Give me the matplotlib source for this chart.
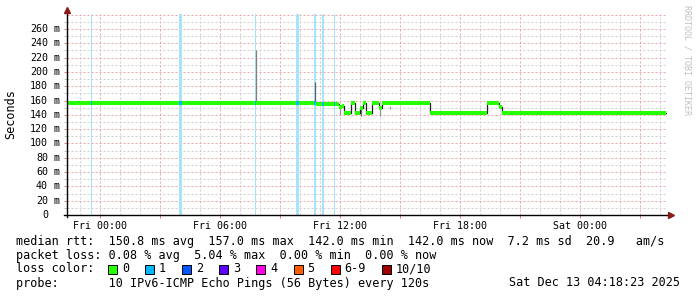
import numpy as np
import matplotlib
matplotlib.use('Agg')
import matplotlib.pyplot as plt
from matplotlib.patches import Rectangle

plt.rcParams['font.family'] = ['DejaVu Sans Mono']
plt.rcParams['lines.scale_dashes'] = False

W, H = 697, 297

# ---------------- data ----------------
view_start_h, view_end_h = -1.65, 28.35          # hours relative to Fri 00:00
tick_hours = [0, 6, 12, 18, 24]
tick_labels = ['Fri 00:00', 'Fri 06:00', 'Fri 12:00', 'Fri 18:00', 'Sat 00:00']
y_ticks_ms = [0, 20, 40, 60, 80, 100, 120, 140, 160, 180, 200, 220, 240, 260]

# median rtt as steps: start hour of each step and its value (ms)
seg_start_h = [-1.65, 10.78, 11.95, 12.08, 12.2, 12.55, 12.75, 13.0, 13.15,
               13.3, 13.6, 13.97, 14.12, 16.5, 19.37, 19.97, 20.08]
seg_rtt_ms = [157.0, 155.5, 151.0, 153.0, 142.0, 157.0, 142.0, 150.0, 157.0,
              142.0, 157.0, 149.0, 156.0, 142.0, 156.0, 151.0, 142.0]
data_end_h = 28.3

# packet-loss events (loss = 1 of 10)
loss_h = [-0.45, 4.02, 7.78, 9.87, 10.75, 11.13, 11.72]
loss_width_h = [0.05, 0.15, 0.05, 0.15, 0.10, 0.10, 0.05]

# smoke (ping spread) spikes
smoke_h = [7.78, 10.75, 12.0, 13.05, 14.0, 14.5]
smoke_lo = [157, 157, 140, 138, 138, 148]
smoke_hi = [230, 186, 150, 150, 150, 153]
smoke_col = ['#808080', '#606060', '#909090', '#707070', '#909090', '#a0a0a0']

rtt_stats = [150.8, 157.0, 142.0, 142.0]
rtt_sd = 7.2
rtt_ams = 20.9
loss_stats = [0.08, 5.04, 0.00, 0.00]
loss_labels = ['0', '1', '2', '3', '4', '5', '6-9', '10/10']
loss_colors = ['#26ff00', '#00b8ff', '#0059ff', '#5e00ff', '#ff00e8', '#ff5e00', '#ff0000', '#a10000']
probe_text = '10 IPv6-ICMP Echo Pings (56 Bytes) every 120s'
stamp_text = 'Sat Dec 13 04:18:23 2025'

# ---------------- figure ----------------
fig = plt.figure(figsize=(W / 100, H / 100), dpi=100)
fig.patch.set_facecolor('white')
ax = fig.add_axes([67 / W, (H - 215) / H, 600 / W, 201 / H])
ymax = 201 / (186 / 260)
ax.set_xlim(view_start_h, view_end_h)
ax.set_ylim(0, ymax)
for s in ax.spines.values():
    s.set_visible(False)

minor_col = '#cfcfcf'
major_col = '#e8a8a8'
dash = (0, (1.44, 1.44))
# grid
for hh in np.arange(-1, 29, 1):
    c = major_col if hh % 3 == 0 else minor_col
    ax.axvline(hh, color=c, lw=0.72, ls=dash, zorder=1)
for yy in np.arange(10, 281, 10):
    c = major_col if yy % 20 == 0 else minor_col
    ax.axhline(yy, color=c, lw=0.72, ls=dash, zorder=1)

# ticks
ax.set_xticks(np.arange(0, 28, 3))
ax.set_xticklabels([tick_labels[tick_hours.index(t)] if t in tick_hours else ''
                    for t in np.arange(0, 28, 3)], fontsize=7.2)
ax.set_xticks(np.arange(-1, 29, 1), minor=True)
ax.tick_params(axis='x', which='major', length=2.2, width=0.72, color='#e08080', pad=2.0)
ax.tick_params(axis='x', which='minor', length=0)
ax.set_yticks(y_ticks_ms)
ax.set_yticklabels([])
ax.set_yticks(np.arange(10, 281, 20), minor=True)
ax.tick_params(axis='y', which='major', length=2.2, width=0.72, color='#e08080')
ax.tick_params(axis='y', which='minor', length=2.2, width=0.72, color='#c0c0c0')

ytr = ax.get_yaxis_transform()
for v in y_ticks_ms:
    ax.text((48 - 67) / 600, v, f'{v}', transform=ytr, ha='right', va='center', fontsize=7.2)
    if v != 0:
        ax.text((54 - 67) / 600, v, 'm', transform=ytr, ha='left', va='center', fontsize=7.2)

# loss bars
for h0, w in zip(loss_h, loss_width_h):
    ax.axvspan(h0 - w / 2, h0 + w / 2, color='#a6e4fb', lw=0, zorder=2)

# smoke spikes
for h0, lo, hi, c in zip(smoke_h, smoke_lo, smoke_hi, smoke_col):
    ax.vlines(h0, lo, hi, color=c, lw=0.9, zorder=3)

# median line
xs = list(seg_start_h) + [data_end_h]
ys = list(seg_rtt_ms) + [seg_rtt_ms[-1]]
ax.step(xs, ys, where='post', color='#202020', lw=0.9, zorder=4)
ax.hlines(seg_rtt_ms, seg_start_h, xs[1:], color='#26ff00', lw=2.9, zorder=5)
for h0, w in zip(loss_h, loss_width_h):
    idx = np.searchsorted(seg_start_h, h0, side='right') - 1
    ax.hlines(seg_rtt_ms[idx], h0 - w / 2, h0 + w / 2, color='#00b8ff', lw=2.9, zorder=6)

# axis lines with arrows
ax.plot([view_start_h - 0.15, view_end_h + 0.2], [0, 0], color='black', lw=1.0, clip_on=False, zorder=7)
ax.plot([view_start_h, view_start_h], [-2.5, ymax + 6], color='black', lw=1.0, clip_on=False, zorder=7)
ax.plot([view_end_h + 0.2], [0], marker='>', color='#8b1a1a', ms=4, clip_on=False, zorder=8)
ax.plot([view_start_h], [ymax + 6], marker='^', color='#8b1a1a', ms=4, clip_on=False, zorder=8)

# y label
fig.text(11 / W, 1 - 114 / H, 'Seconds', rotation=90, ha='center', va='center', fontsize=8.5)
# watermark
fig.text(687 / W, 1 - 60 / H, 'RRDTOOL / TOBI OETIKER', rotation=270, ha='center', va='center',
         fontsize=6.0, color='#c0c0c0')

# legend
def ftext(x, y, s, **kw):
    fig.text(x / W, 1 - y / H, s, va='center', fontsize=8.5, **kw)

line1 = (f'median rtt:  {rtt_stats[0]:.1f} ms avg  {rtt_stats[1]:.1f} ms max  '
         f'{rtt_stats[2]:.1f} ms min  {rtt_stats[3]:.1f} ms now  {rtt_sd:.1f} ms sd  '
         f'{rtt_ams:.1f}   am/s')
line2 = (f'packet loss: {loss_stats[0]:.2f} % avg  {loss_stats[1]:.2f} % max  '
         f'{loss_stats[2]:.2f} % min  {loss_stats[3]:.2f} % now')
ftext(16, 241, line1)
ftext(16, 256, line2)
ftext(16, 269, 'loss color:')
ftext(16, 283, 'probe:       ' + probe_text)
ftext(680, 283, stamp_text, ha='right')

cw = 7.1
bx = 108
for lab, col in zip(loss_labels, loss_colors):
    fig.add_artist(Rectangle((bx / W, 1 - 274 / H), 9 / W, 9 / H, transform=fig.transFigure,
                             facecolor=col, edgecolor='black', lw=0.7))
    ftext(bx + 14, 269, lab)
    bx += 14 + cw * len(lab) + 16

fig.savefig('out.png', dpi=100, facecolor='white')
